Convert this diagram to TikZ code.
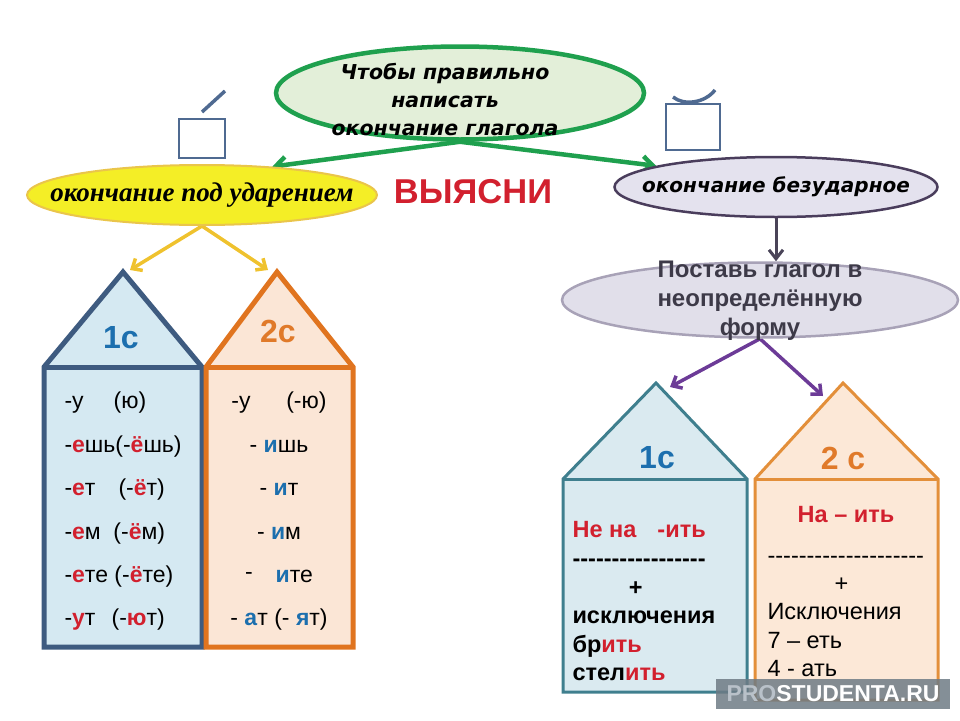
\documentclass[tikz,border=0pt]{standalone}
\usepackage{fontspec}
\setmainfont{Liberation Sans}
\newfontfamily\verdfont{DejaVu Sans}
\newfontfamily\seriffont{Liberation Serif}
\usetikzlibrary{arrows.meta,shapes.geometric,positioning,backgrounds}

\definecolor{gborder}{HTML}{1FA04E}
\definecolor{gfill}{HTML}{E3EFD9}
\definecolor{ydraw}{HTML}{EAC54B}
\definecolor{yfill}{HTML}{F4EE26}
\definecolor{yarrowc}{HTML}{EFC22E}
\definecolor{pdraw}{HTML}{4A3D5C}
\definecolor{pfill}{HTML}{E4E2EE}
\definecolor{idraw}{HTML}{A8A2B7}
\definecolor{ifill}{HTML}{E1DFEA}
\definecolor{inftxtc}{HTML}{3D3A48}
\definecolor{parrowc}{HTML}{6C3B97}
\definecolor{darrowc}{HTML}{4A4458}
\definecolor{hAdraw}{HTML}{3E5B80}
\definecolor{hAfill}{HTML}{D5E9F2}
\definecolor{hBdraw}{HTML}{E0741F}
\definecolor{hBfill}{HTML}{FBE6D6}
\definecolor{hCdraw}{HTML}{3F7F8E}
\definecolor{hCfill}{HTML}{DAEAF0}
\definecolor{hDdraw}{HTML}{E38F3A}
\definecolor{hDfill}{HTML}{FCE8D7}
\definecolor{endred}{HTML}{D2202E}
\definecolor{endblue}{HTML}{1C6FAE}
\definecolor{orangetxt}{HTML}{E07A2A}
\definecolor{markc}{HTML}{4F6A91}
\definecolor{wmgray}{HTML}{6E7B85}
\definecolor{wmlight}{HTML}{B9C1C9}

\newcommand{\rd}[1]{\textcolor{endred}{\textbf{#1}}}
\newcommand{\bl}[1]{\textcolor{endblue}{\textbf{#1}}}
\newcommand{\dashrow}[1]{\foreach \i in {1,...,#1}{-\kern0pt}}

\begin{document}
\begin{tikzpicture}[x=1pt,y=-1pt,
    bubble/.style={ellipse,inner sep=0pt},
    garrow/.style={draw=gborder,line width=4.5pt,-{Straight Barb[length=10pt,width=16pt]}},
    yarrow/.style={draw=yarrowc,line width=3.5pt,-{Straight Barb[length=8pt,width=14pt]}},
    parrow/.style={draw=parrowc,line width=3.5pt,-{Straight Barb[length=8pt,width=14pt]}},
    darrow/.style={draw=darrowc,line width=3pt,-{Straight Barb[length=9pt,width=14pt]}},
    housetitle/.style={font=\bfseries\fontsize{32}{32}\selectfont},
    housetxt/.style={font=\fontsize{23}{43.4}\selectfont},
    rtxt/.style={font=\fontsize{23.5}{28.3}\selectfont},
    rtxtb/.style={font=\bfseries\fontsize{23.5}{28.6}\selectfont}]
\useasboundingbox (0,0) rectangle (960,720);

% top question
\node[bubble,draw=gborder,line width=4.5pt,fill=gfill,minimum width=368pt,minimum height=93pt] (goal) at (460,93) {};
\node[font=\verdfont\bfseries\itshape\fontsize{20.5}{28}\selectfont,align=center] (goaltxt) at (445,100) {Чтобы правильно\\написать\\окончание глагола};

\node[bubble,inner xsep=-28pt,draw=ydraw,line width=2pt,fill=yfill,minimum width=345pt,minimum height=60pt,font=\seriffont\bfseries\itshape\fontsize{27}{30}\selectfont] (stressed) at (202,195) {окончание под ударением};
\node[bubble,inner xsep=-21pt,draw=pdraw,line width=2.5pt,fill=pfill,minimum width=323pt,minimum height=60pt,font=\verdfont\bfseries\itshape\fontsize{20}{24}\selectfont] (unstressed) at (776,187) {окончание безударное};
\node[text=endred,font=\bfseries\fontsize{34.5}{34.5}\selectfont] (vyasni) at (473,192) {ВЫЯСНИ};

\node[bubble,draw=idraw,line width=2.5pt,fill=ifill,minimum width=396pt,minimum height=75pt] (inf) at (760,300) {};
\node[text=inftxtc,font=\bfseries\fontsize{24}{29}\selectfont,align=center] (inftxt) at (760,301) {Поставь глагол в\\неопределённую\\форму};

% stress marks
\draw[markc,line width=2.5pt] (179,119) rectangle (225,158);
\draw[markc,line width=3.5pt] (202,112) -- (225,91);
\draw[markc,line width=2.5pt] (666,104) rectangle (720,150);
\draw[markc,line width=3.5pt] (673,97) .. controls (684,106) and (705,103) .. (715,90);

% houses
\coordinate (topA) at (123,272);
\coordinate (topB) at (277,272);
\coordinate (topC) at (656,383);
\coordinate (topD) at (843,383);
\filldraw[draw=hAdraw,fill=hAfill,line width=5pt] (44,647) -- (44,367) -- (topA) -- (202,367) -- (202,647) -- cycle;
\draw[hAdraw,line width=5pt] (44,367) -- (202,367);
\filldraw[draw=hBdraw,fill=hBfill,line width=5pt] (206,647) -- (206,367) -- (topB) -- (353,367) -- (353,647) -- cycle;
\draw[hBdraw,line width=5pt] (206,367) -- (353,367);
\filldraw[draw=hCdraw,fill=hCfill,line width=3pt] (563,692) -- (563,479) -- (topC) -- (747,479) -- (747,692) -- cycle;
\draw[hCdraw,line width=3pt] (563,479) -- (747,479);
\filldraw[draw=hDdraw,fill=hDfill,line width=3pt] (755,700) -- (755,479) -- (topD) -- (938,479) -- (938,700) -- cycle;
\draw[hDdraw,line width=3pt] (755,479) -- (938,479);

\node[housetitle,text=endblue] (titleA) at (121,338) {1с};
\node[housetitle,text=orangetxt] (titleB) at (278,331) {2с};
\node[housetitle,text=endblue] (titleC) at (657,458) {1с};
\node[housetitle,text=orangetxt] (titleD) at (843,458) {2 с};

\node[housetxt,align=left,anchor=west] (endsA) at (61,511.5) {-у\hspace{1.3em}(ю)\\
-\rd{е}шь(-\rd{ё}шь)\\
-\rd{е}т\hspace{1em}(-\rd{ё}т)\\
-\rd{е}м\hspace{0.55em}(-\rd{ё}м)\\
-\rd{е}те (-\rd{ё}те)\\
-\rd{у}т\hspace{0.7em}(-\rd{ю}т)};
\node[housetxt,align=center] (endsB) at (279,511.5) {-у\hspace{1.55em}(-ю)\\
- \bl{и}шь\\
- \bl{и}т\\
- \bl{и}м\\
\raisebox{3pt}{-}\hspace{1em}\bl{и}те\\
- \bl{а}т (- \bl{я}т)};

\node[rtxtb,align=left,anchor=west] (endsC) at (569,601.5) {\textcolor{endred}{Не на\hspace{0.9em}-ить}\\
\dashrow{17}\\
\hspace*{2.4em}+\\
исключения\\
бр\textcolor{endred}{ить}\\
стел\textcolor{endred}{ить}};
\node[rtxtb,text=endred] (nah) at (846,515) {На – ить};
\node[rtxt,align=left,anchor=west] (endsD) at (764,616.5) {\dashrow{20}\\
\hspace*{2.85em}+\\
Исключения\\
7 – еть\\
4 - ать};

% connectors
\coordinate (tipA) at (130,270);
\coordinate (tipB) at (268,270);
\coordinate (tipC) at (670,387);
\coordinate (tipD) at (823,396);
\begin{scope}[on background layer]
\draw[garrow] (goal.south) -- (stressed.22);
\draw[garrow] (goal.south) -- (unstressed.170);
\draw[yarrow] (stressed.south) -- (tipA);
\draw[yarrow] (stressed.south) -- (tipB);
\draw[darrow] (unstressed.south) -- (unstressed.south |- inf.north);
\draw[parrow] (inf.south) -- (tipC);
\draw[parrow] (inf.south) -- (tipD);
\end{scope}

% watermark
\node[fill=wmgray,fill opacity=.85,text opacity=1,minimum width=234pt,minimum height=30pt,inner sep=0pt,font=\bfseries\fontsize{23}{23}\selectfont] (wm) at (833,693.5) {\textcolor{wmlight}{PRO}\textcolor{white}{STUDENTA.RU}};
\end{tikzpicture}
\end{document}
